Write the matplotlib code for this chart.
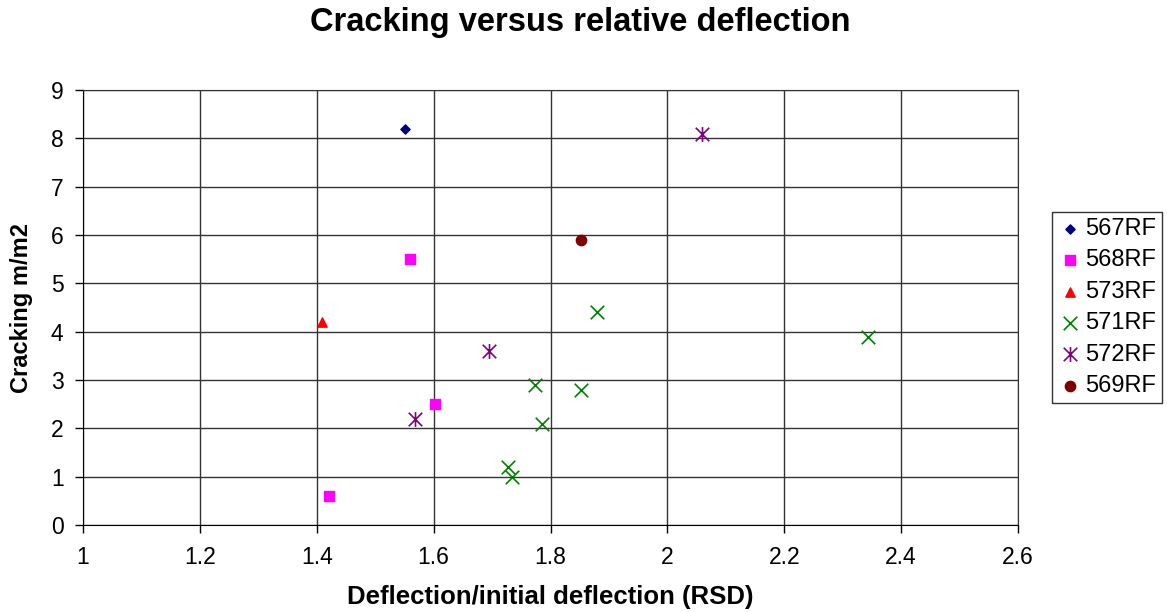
import matplotlib
matplotlib.use("Agg")
import matplotlib.pyplot as plt
from matplotlib.path import Path

plt.rcParams['font.family'] = ['Liberation Sans', 'DejaVu Sans']

# Data
s567_x = [1.551]
s567_y = [8.2]
s568_x = [1.559, 1.603, 1.421]
s568_y = [5.5, 2.5, 0.6]
s573_x = [1.409]
s573_y = [4.2]
s571_x = [1.880, 1.773, 1.853, 1.785, 1.727, 1.734, 2.344]
s571_y = [4.4, 2.9, 2.8, 2.1, 1.2, 1.0, 3.9]
s572_x = [1.694, 1.568, 2.059]
s572_y = [3.6, 2.2, 8.1]
s569_x = [1.852]
s569_y = [5.9]

x_ticks = [1, 1.2, 1.4, 1.6, 1.8, 2, 2.2, 2.4, 2.6]
x_ticklabels = ["1", "1.2", "1.4", "1.6", "1.8", "2", "2.2", "2.4", "2.6"]
y_ticks = list(range(0, 10))

# Excel-like star marker: X with a vertical bar
star = Path([(-1, -1), (1, 1), (-1, 1), (1, -1), (0, -1.1), (0, 1.1)],
            [Path.MOVETO, Path.LINETO, Path.MOVETO, Path.LINETO, Path.MOVETO, Path.LINETO])

W, H = 1167, 612
fig = plt.figure(figsize=(W / 100, H / 100), dpi=100)
ax = fig.add_axes([83 / W, 1 - 525 / H, (1018 - 83) / W, (525 - 90) / H])

ax.scatter(s567_x, s567_y, marker='D', s=22, color='#000080', label='567RF', zorder=3)
ax.scatter(s568_x, s568_y, marker='s', s=45, color='#FF00FF', label='568RF', zorder=3)
ax.scatter(s573_x, s573_y, marker='^', s=45, color='#FF0000', label='573RF', zorder=3)
ax.scatter(s571_x, s571_y, marker='x', s=95, color='#008000', linewidths=1.2, label='571RF', zorder=3)
ax.scatter(s572_x, s572_y, marker=star, s=115, color='#800080', linewidths=1.2, label='572RF', zorder=3)
ax.scatter(s569_x, s569_y, marker='o', s=55, color='#800000', label='569RF', zorder=3)

ax.set_xlim(1, 2.6)
ax.set_ylim(0, 9)
ax.set_xticks(x_ticks)
ax.set_xticklabels(x_ticklabels)
ax.set_yticks(y_ticks)
ax.grid(True, color='#333333', linewidth=1.0)
ax.set_axisbelow(True)
for sp in ax.spines.values():
    sp.set_color('#333333')
ax.spines['left'].set_color('black')
ax.spines['bottom'].set_color('black')
ax.tick_params(axis='both', direction='out', length=6, labelsize=16.5, colors='black', width=1)
ax.tick_params(axis='x', pad=9)
ax.tick_params(axis='y', pad=8)

fig.text(550 / W, 1 - 597 / H, 'Deflection/initial deflection (RSD)', fontsize=18.5,
         fontweight='bold', ha='center', va='center')
fig.text(22 / W, 1 - 308 / H, 'Cracking m/m2', fontsize=17, fontweight='bold',
         ha='center', va='center', rotation=90)
fig.text(580 / W, 1 - 23 / H, 'Cracking versus relative deflection', fontsize=23.5,
         fontweight='bold', ha='center', va='center')

leg = fig.legend(loc='upper left', bbox_to_anchor=(1052 / W, 1 - 212 / H), fontsize=17,
                 frameon=True, fancybox=False, edgecolor='black', borderpad=0.25,
                 handletextpad=0.15, handlelength=1.0, labelspacing=0.4, borderaxespad=0)
leg.get_frame().set_linewidth(1.0)

fig.savefig('out.png', dpi=100)
